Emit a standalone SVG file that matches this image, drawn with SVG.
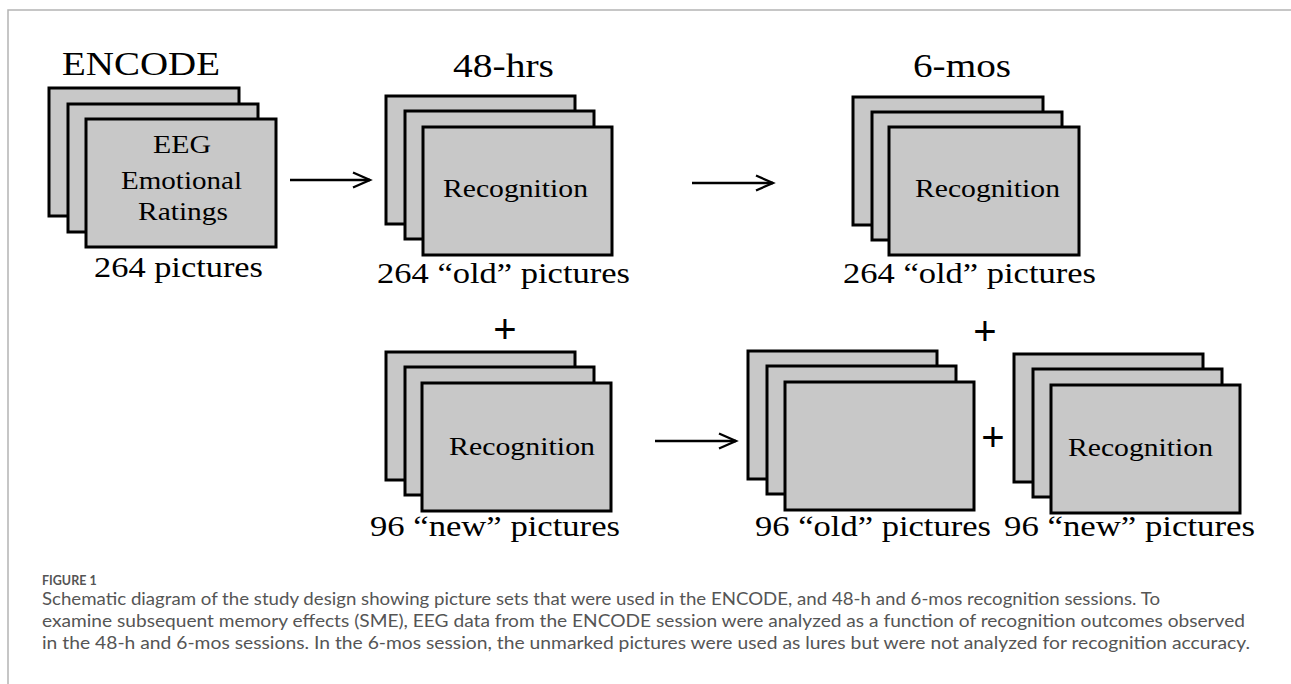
<svg xmlns="http://www.w3.org/2000/svg" width="1291" height="684" viewBox="0 0 1291 684">
  <style>
    .card { fill: #c8c8c8; stroke: #000; stroke-width: 3; }
    .serif { font-family: "Liberation Serif", "Times New Roman", serif; fill: #000; }
    .title { font-size: 34px; }
    .inner { font-size: 25.5px; }
    .count { font-size: 30px; }
    .plus { font-family: "Liberation Sans", Arial, sans-serif; font-size: 40px; fill: #000; text-anchor: middle; }
    .flow { stroke: #000; stroke-width: 2.5; fill: none; marker-end: url(#chevron); }
    .frame { stroke: #b4b4b4; stroke-width: 1.5; fill: none; }
    .caption { font-family: Lato, "Open Sans", sans-serif; fill: #555; }
  </style>
  <defs>
    <marker id="chevron" markerUnits="userSpaceOnUse" markerWidth="24" markerHeight="20" refX="20" refY="10" orient="auto">
      <path d="M3,2.5 L20,10 L3,17.5" fill="none" stroke="#000" stroke-width="2.3"/>
    </marker>
  </defs>

  <!-- figure frame -->
  <path class="frame" d="M8,684 L8,10 L1291,10"/>

  <!-- encoding session -->
  <g id="encode">
    <text class="serif title" x="62" y="75" textLength="158" lengthAdjust="spacingAndGlyphs">ENCODE</text>
    <rect class="card" x="49" y="88" width="190" height="128"/>
    <rect class="card" x="68" y="104" width="190" height="128"/>
    <rect class="card" x="86" y="119" width="190" height="128"/>
    <text class="serif inner" x="153" y="153" textLength="58" lengthAdjust="spacingAndGlyphs">EEG</text>
    <text class="serif inner" x="121" y="189" textLength="121" lengthAdjust="spacingAndGlyphs">Emotional</text>
    <text class="serif inner" x="138" y="220" textLength="90" lengthAdjust="spacingAndGlyphs">Ratings</text>
    <text class="serif count" x="94" y="277" textLength="169" lengthAdjust="spacingAndGlyphs">264 pictures</text>
  </g>

  <!-- 48-hour recognition, old set -->
  <g id="old-48h">
    <text class="serif title" x="453" y="77" textLength="101" lengthAdjust="spacingAndGlyphs">48-hrs</text>
    <rect class="card" x="386" y="96" width="189" height="128"/>
    <rect class="card" x="405" y="111" width="189" height="128"/>
    <rect class="card" x="423" y="127" width="189" height="128"/>
    <text class="serif inner" x="443" y="197" textLength="145" lengthAdjust="spacingAndGlyphs">Recognition</text>
    <text class="serif count" x="377" y="283" textLength="253" lengthAdjust="spacingAndGlyphs">264 “old” pictures</text>
  </g>

  <!-- 6-month recognition, old set -->
  <g id="old-6mos">
    <text class="serif title" x="913" y="77" textLength="98" lengthAdjust="spacingAndGlyphs">6-mos</text>
    <rect class="card" x="853" y="97" width="190" height="128"/>
    <rect class="card" x="872" y="112" width="190" height="128"/>
    <rect class="card" x="889" y="127" width="190" height="128"/>
    <text class="serif inner" x="915" y="197" textLength="145" lengthAdjust="spacingAndGlyphs">Recognition</text>
    <text class="serif count" x="843" y="283" textLength="253" lengthAdjust="spacingAndGlyphs">264 “old” pictures</text>
  </g>

  <!-- 48-hour recognition, new set -->
  <g id="new-48h">
    <text class="plus" x="505" y="343">+</text>
    <rect class="card" x="386" y="352" width="189" height="128"/>
    <rect class="card" x="405" y="367" width="189" height="128"/>
    <rect class="card" x="422" y="383" width="189" height="128"/>
    <text class="serif inner" x="449" y="455" textLength="146" lengthAdjust="spacingAndGlyphs">Recognition</text>
    <text class="serif count" x="370" y="536" textLength="250" lengthAdjust="spacingAndGlyphs">96 “new” pictures</text>
  </g>

  <!-- 6-month lures (unmarked) -->
  <g id="old-96-6mos">
    <text class="plus" x="985" y="345">+</text>
    <rect class="card" x="748" y="351" width="189" height="128"/>
    <rect class="card" x="767" y="366" width="189" height="128"/>
    <rect class="card" x="785" y="382" width="189" height="128"/>
    <text class="serif count" x="755" y="536" textLength="236" lengthAdjust="spacingAndGlyphs">96 “old” pictures</text>
  </g>

  <!-- 6-month recognition, new set -->
  <g id="new-6mos">
    <text class="plus" x="993" y="451">+</text>
    <rect class="card" x="1014" y="354" width="189" height="128"/>
    <rect class="card" x="1033" y="369" width="189" height="128"/>
    <rect class="card" x="1051" y="385" width="189" height="128"/>
    <text class="serif inner" x="1068" y="456" textLength="145" lengthAdjust="spacingAndGlyphs">Recognition</text>
    <text class="serif count" x="1004" y="536" textLength="251" lengthAdjust="spacingAndGlyphs">96 “new” pictures</text>
  </g>

  <!-- session-to-session arrows -->
  <g id="connectors">
    <line class="flow" x1="290" y1="180" x2="370" y2="180"/>
    <line class="flow" x1="692" y1="183" x2="773" y2="183"/>
    <line class="flow" x1="655" y1="441" x2="736" y2="441"/>
  </g>

  <!-- caption -->
  <g id="caption">
    <text class="caption" x="42" y="585" font-size="12.5" font-weight="bold">FIGURE 1</text>
    <text class="caption" x="42" y="605" font-size="17" textLength="1118" lengthAdjust="spacingAndGlyphs">Schematic diagram of the study design showing picture sets that were used in the ENCODE, and 48-h and 6-mos recognition sessions. To</text>
    <text class="caption" x="42" y="627" font-size="17" textLength="1203" lengthAdjust="spacingAndGlyphs">examine subsequent memory effects (SME), EEG data from the ENCODE session were analyzed as a function of recognition outcomes observed</text>
    <text class="caption" x="42" y="649" font-size="17" textLength="1208" lengthAdjust="spacingAndGlyphs">in the 48-h and 6-mos sessions. In the 6-mos session, the unmarked pictures were used as lures but were not analyzed for recognition accuracy.</text>
  </g>
</svg>
